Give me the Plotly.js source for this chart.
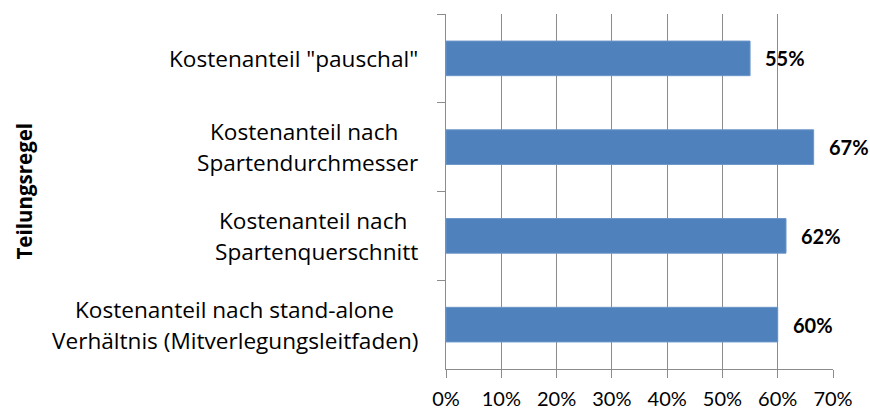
<!DOCTYPE html>
<html>
<head>
<meta charset="utf-8">
<script src="https://cdn.plot.ly/plotly-3.0.1.min.js"></script>
<style>
html,body{margin:0;padding:0;background:#fff;}
#chart{width:870px;height:410px;}
</style>
</head>
<body>
<div id="chart"></div>
<script>
// Categories, top to bottom
var categories = [
  'Kostenanteil "pauschal"',
  'Kostenanteil nach <br>Spartendurchmesser',
  'Kostenanteil nach <br>Spartenquerschnitt',
  'Kostenanteil nach stand-alone<br>Verhältnis (Mitverlegungsleitfaden)'
];
// Shares (fraction)
var values = [0.55, 0.665, 0.615, 0.60];
// Data labels as shown
var valueLabels = ['55%', '67%', '62%', '60%'];
// X axis ticks
var tickValues = [0, 0.1, 0.2, 0.3, 0.4, 0.5, 0.6, 0.7];
var tickLabels = ['0%', '10%', '20%', '30%', '40%', '50%', '60%', '70%'];
var yTitle = 'Teilungsregel';

var CAT_FONT = '"Open Sans", sans-serif';
var CAT_SIZE = 22.6;
var NUM_FONT = 'Lato, sans-serif';
var GRID = '#8c8c8c';
var LINE_H = 31;

var ctx = document.createElement('canvas').getContext('2d');
ctx.font = CAT_SIZE + 'px ' + CAT_FONT;
function textW(s) { return ctx.measureText(s).width; }

var trace = {
  type: 'bar',
  orientation: 'h',
  x: values,
  y: categories,
  marker: {color: '#4f81bd', line: {color: '#6b95c9', width: 1}},
  hoverinfo: 'none'
};

var annotations = [];
categories.forEach(function (c, i) {
  var lines = c.split('<br>');
  var maxW = Math.max.apply(null, lines.map(textW));
  var n = lines.length;
  lines.forEach(function (ln, j) {
    annotations.push({
      xref: 'paper', yref: 'y', x: 0, y: c,
      xshift: -28 - maxW / 2,
      yshift: -((j - (n - 1) / 2) * LINE_H),
      xanchor: 'center', yanchor: 'middle',
      text: ln.replace(/ $/, '&nbsp;'), showarrow: false,
      font: {family: CAT_FONT, size: CAT_SIZE, color: '#000'}
    });
  });
  annotations.push({
    xref: 'x', yref: 'y', x: values[i], y: c, xshift: 13,
    xanchor: 'left', yanchor: 'middle',
    text: '<b>' + valueLabels[i] + '</b>', showarrow: false,
    font: {family: NUM_FONT, size: 20, color: '#000'}
  });
});
annotations.push({
  xref: 'paper', yref: 'paper', x: 0, y: 0.5, xshift: -423,
  xanchor: 'center', yanchor: 'middle', textangle: -90,
  text: '<b>' + yTitle + '</b>', showarrow: false,
  font: {family: CAT_FONT, size: 20.5, color: '#000'}
});

var layout = {
  width: 870, height: 410,
  margin: {l: 446, r: 37, t: 14, b: 41, pad: 0},
  paper_bgcolor: '#fff', plot_bgcolor: '#fff',
  showlegend: false,
  bargap: 0.61,
  font: {family: NUM_FONT, size: 20, color: '#000'},
  xaxis: {
    range: [0, 0.7],
    tickvals: tickValues, ticktext: tickLabels,
    showgrid: true, gridcolor: GRID, gridwidth: 1,
    showline: true, linecolor: GRID, linewidth: 1,
    ticks: 'outside', ticklen: 8, tickcolor: GRID,
    ticklabelstandoff: 4,
    tickfont: {family: NUM_FONT, size: 20, color: '#000'},
    zeroline: false, fixedrange: true
  },
  yaxis: {
    type: 'category',
    autorange: 'reversed',
    showticklabels: false,
    tickson: 'boundaries',
    ticks: 'outside', ticklen: 8, tickcolor: GRID,
    showgrid: false,
    showline: true, linecolor: GRID, linewidth: 1,
    zeroline: false, fixedrange: true
  },
  annotations: annotations
};

Plotly.newPlot('chart', [trace], layout, {displayModeBar: false, staticPlot: true});
</script>
</body>
</html>
